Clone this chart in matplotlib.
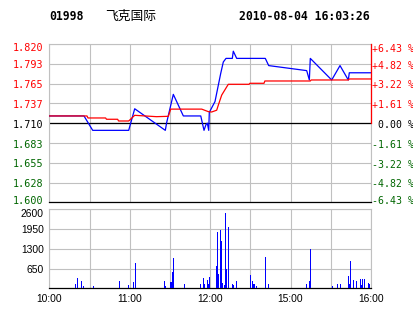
import matplotlib
matplotlib.use("Agg")
import matplotlib.pyplot as plt
from matplotlib.ticker import FixedLocator
from matplotlib.transforms import ScaledTranslation

# ---------------- data ----------------
stock_code = "01998"
stock_name = "飞克国际"
timestamp = "2010-08-04 16:03:26"
prev_close = 1.710

price_times = ["10:00:00", "10:25:53", "10:32:22", "10:59:14", "11:03:43", "11:26:33",
               "11:27:35", "11:32:31", "11:40:00", "11:53:00", "11:55:25", "11:56:54",
               "11:57:53", "11:58:56", "11:59:22", "12:03:37", "12:07:52", "12:09:49",
               "12:11:50", "12:16:32", "12:17:16", "12:19:48", "14:41:09", "14:43:40",
               "15:12:02", "15:14:00", "15:14:43", "15:30:41", "15:36:53", "15:43:04",
               "15:43:49", "16:00:00"]
price_values = [1.720, 1.720, 1.700, 1.700, 1.730, 1.700,
                1.711, 1.750, 1.720, 1.720, 1.700, 1.708,
                1.710, 1.700, 1.725, 1.740, 1.779, 1.795,
                1.800, 1.800, 1.810, 1.800, 1.800, 1.790,
                1.783, 1.770, 1.800, 1.770, 1.790, 1.770,
                1.780, 1.780]

avg_times = ["10:00:00", "10:28:08", "10:28:50", "10:42:00", "10:42:40", "10:51:00",
             "10:51:40", "10:59:14", "11:03:43", "11:20:00", "11:28:48", "11:30:35",
             "11:53:42", "11:58:37", "12:01:09", "12:04:53", "12:06:05", "12:08:37",
             "12:13:32", "12:29:00", "12:29:40", "14:40:10", "14:40:50", "15:14:43",
             "15:15:20", "15:43:04", "15:43:49", "16:00:00"]
avg_values = [1.7200, 1.7200, 1.7172, 1.7172, 1.7154, 1.7154,
              1.7130, 1.7130, 1.7209, 1.7190, 1.7195, 1.7295,
              1.7295, 1.7260, 1.7255, 1.7280, 1.7350, 1.7490,
              1.7640, 1.7640, 1.7654, 1.7654, 1.7686, 1.7686,
              1.7700, 1.7700, 1.7714, 1.7714]

vol_times = ["10:19:24", "10:20:53", "10:23:52", "10:25:22", "10:32:50", "10:52:13",
             "10:59:14", "11:02:40", "11:04:10", "11:25:48", "11:26:33", "11:30:48",
             "11:31:46", "11:32:31", "11:40:43", "11:52:39", "11:54:53", "11:55:38",
             "11:57:53", "11:58:37", "11:59:22", "12:04:35", "12:05:20", "12:06:05",
             "12:07:34", "12:08:19", "12:09:04", "12:10:34", "12:11:18", "12:12:03",
             "12:13:32", "12:16:32", "12:17:16", "12:19:31", "12:29:58", "14:31:27",
             "14:32:11", "14:32:56", "14:34:26", "14:41:09", "14:43:23", "15:11:44",
             "15:13:58", "15:14:43", "15:31:08", "15:34:52", "15:37:06", "15:43:04",
             "15:43:49", "15:44:34", "15:46:48", "15:49:02", "15:52:01", "15:52:46",
             "15:53:31", "15:55:01", "15:57:59", "15:58:44"]
vol_values = [140, 340, 240, 80, 80, 240,
              110, 210, 830, 240, 80, 210,
              540, 1000, 140, 140, 340, 140,
              270, 140, 370, 735, 1850, 470,
              1920, 1560, 175, 110, 2480, 640,
              2020, 140, 110, 240, 440, 240,
              140, 140, 80, 1030, 140, 140,
              240, 1300, 80, 140, 140, 410,
              140, 900, 270, 240, 310, 110,
              310, 310, 175, 140]

price_ticks = [1.600, 1.6275, 1.655, 1.6825, 1.710, 1.7375, 1.765, 1.7925, 1.820]
price_tick_labels = ["1.600", "1.628", "1.655", "1.683", "1.710", "1.737", "1.765", "1.793", "1.820"]
pct_tick_labels = ["-6.43 %", "-4.82 %", "-3.22 %", "-1.61 %", " 0.00 %",
                   "+1.61 %", "+3.22 %", "+4.82 %", "+6.43 %"]
vol_ticks = [650, 1300, 1950, 2600]
vol_tick_labels = ["650", "1300", "1950", "2600"]
time_tick_labels = ["10:00", "11:00", "12:00", "15:00", "16:00"]
grid_times = ["10:30", "11:30", "12:30", "15:30"]

RED = "#FF0000"
GREEN = "#006600"
BLUE = "#0000FF"
GRID = "#C0C0C0"


def sess_min(s):
    parts = [int(p) for p in s.split(":")]
    while len(parts) < 3:
        parts.append(0)
    clock = parts[0] * 60 + parts[1] + parts[2] / 60.0
    if clock <= 12 * 60 + 30:
        return clock - 600
    return 150 + clock - (14 * 60 + 30)


px = [sess_min(t) for t in price_times]
ax_ = [sess_min(t) for t in avg_times]
vx = [sess_min(t) for t in vol_times]
major_x = [sess_min(t) for t in time_tick_labels]
minor_x = [sess_min(t) for t in grid_times]

W, H = 414, 314
fig = plt.figure(figsize=(W / 100, H / 100), dpi=100)
fig.patch.set_facecolor("white")


def shift(label, dy_px):
    label.set_transform(label.get_transform() +
                        ScaledTranslation(0, -dy_px / 100.0, fig.dpi_scale_trans))


L, R = 49.3, 371.0
ax = fig.add_axes([L / W, 1 - 202.3 / H, (R - L) / W, (202.3 - 44.0) / H])
axv = fig.add_axes([L / W, 1 - 288.3 / H, (R - L) / W, 79.0 / H])

mono = ["DejaVu Sans Mono"]
sans = ["Liberation Sans", "DejaVu Sans"]


def level_color(v):
    if v > prev_close + 1e-9:
        return RED
    if v < prev_close - 1e-9:
        return GREEN
    return "black"


# ---------------- price panel ----------------
ax.set_xlim(0, 240)
ax.set_ylim(price_ticks[0], price_ticks[-1])
ax.plot(px, price_values, color=BLUE, lw=0.9, zorder=3)
ax.plot(ax_, avg_values, color=RED, lw=0.9, zorder=4)
ax.axhline(prev_close, color="black", lw=0.9, zorder=2)

ax.xaxis.set_major_locator(FixedLocator(major_x))
ax.xaxis.set_minor_locator(FixedLocator(minor_x))
ax.tick_params(axis="x", which="both", length=0, labelbottom=False)
ax.yaxis.set_major_locator(FixedLocator(price_ticks))
ax.set_yticklabels(price_tick_labels, fontfamily=mono, fontsize=7.3)
ax.tick_params(axis="y", length=0, pad=4)
for lab, v in zip(ax.get_yticklabels(), price_ticks):
    lab.set_color(level_color(v))
    shift(lab, 0.7)
ylabs = ax.get_yticklabels()
shift(ylabs[-1], 2.0)
shift(ylabs[0], -2.5)
ax.grid(True, which="both", color=GRID, lw=0.8, zorder=0)
ax.set_axisbelow(True)
for side in ("left", "top", "right"):
    ax.spines[side].set_color(GRID)
    ax.spines[side].set_linewidth(0.8)
ax.spines["bottom"].set_color("black")
ax.spines["bottom"].set_linewidth(0.9)

# red upper half of right border
ax.plot([1, 1], [prev_close, price_ticks[-1]], transform=ax.get_yaxis_transform(),
        color=RED, lw=0.9, clip_on=False, zorder=5)

axr = ax.twinx()
axr.set_ylim(ax.get_ylim())
axr.yaxis.set_major_locator(FixedLocator(price_ticks))
axr.set_yticklabels(pct_tick_labels, fontfamily=mono, fontsize=7.1)
axr.tick_params(axis="y", length=0, pad=1)
for lab, v in zip(axr.get_yticklabels(), price_ticks):
    lab.set_color(level_color(v))
    shift(lab, 0.8)
rlabs = axr.get_yticklabels()
shift(rlabs[-1], 3.0)
shift(rlabs[0], -3.0)
for s in axr.spines.values():
    s.set_visible(False)

# ---------------- volume panel ----------------
axv.set_xlim(0, 240)
axv.set_ylim(0, vol_ticks[-1])
axv.bar(vx, vol_values, width=1.0, color=BLUE, linewidth=0, zorder=3)
axv.xaxis.set_major_locator(FixedLocator(major_x))
axv.xaxis.set_minor_locator(FixedLocator(minor_x))
axv.set_xticklabels(time_tick_labels, fontfamily=sans, fontsize=7.4)
axv.tick_params(axis="x", which="both", length=0, pad=4)
axv.yaxis.set_major_locator(FixedLocator(vol_ticks))
axv.set_yticklabels(vol_tick_labels, fontfamily=sans, fontsize=7.4)
axv.tick_params(axis="y", length=0, pad=4)
vlabs = axv.get_yticklabels()
shift(vlabs[-1], 4.0)
axv.grid(True, which="both", color=GRID, lw=0.8, zorder=0)
axv.set_axisbelow(True)
for side in ("left", "top", "right"):
    axv.spines[side].set_color(GRID)
    axv.spines[side].set_linewidth(0.8)
axv.spines["bottom"].set_color("black")
axv.spines["bottom"].set_linewidth(0.9)

# ---------------- header ----------------
ty = 1 - 16.5 / H
fig.text(49.5 / W, ty, stock_code, fontfamily=mono, fontweight="bold", fontsize=8.3,
         va="center", ha="left")
fig.text(105 / W, ty, stock_name, fontfamily=["Noto Sans CJK SC", "DejaVu Sans"], fontsize=9.2,
         va="center", ha="left")
fig.text(370 / W, ty, timestamp, fontfamily=mono, fontweight="bold", fontsize=8.3,
         va="center", ha="right")

fig.savefig("out.png", dpi=100, facecolor="white")
